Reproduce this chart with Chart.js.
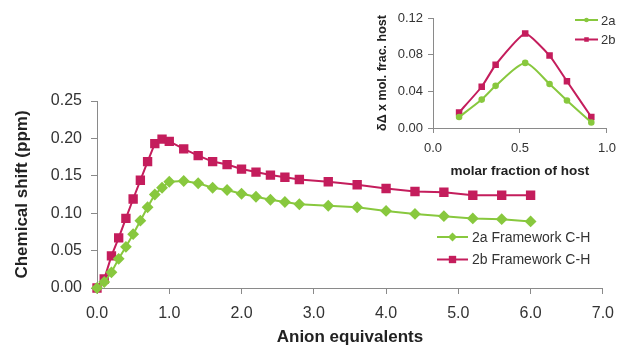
<!DOCTYPE html>
<html>
<head>
<meta charset="utf-8">
<script src="https://cdn.jsdelivr.net/npm/chart.js@4.4.1/dist/chart.umd.min.js"></script>
<style>
  html, body { margin: 0; padding: 0; background: #fff; }
  #wrap { position: relative; width: 624px; height: 348px; }
  #mainChart { position: absolute; left: 0; top: 0; }
  #insetChart { position: absolute; left: 360px; top: 0; }
</style>
</head>
<body>
<div id="wrap">
  <canvas id="mainChart" width="624" height="348"></canvas>
  <canvas id="insetChart" width="264" height="180"></canvas>
</div>
<script>
// Titration: anion equivalents vs chemical shift
const anionEq = [0, 0.1, 0.2, 0.3, 0.4, 0.5, 0.6, 0.7, 0.8, 0.9, 1.0, 1.2, 1.4, 1.6, 1.8, 2.0,
    2.2, 2.4, 2.6, 2.8, 3.2, 3.6, 4.0, 4.4, 4.8, 5.2, 5.6, 6.0];
const shift2a = [0, 0.008, 0.021, 0.039, 0.055, 0.072, 0.090, 0.108, 0.125, 0.134, 0.142, 0.143,
    0.140, 0.134, 0.131, 0.126, 0.122, 0.118, 0.115, 0.112, 0.110, 0.108, 0.103, 0.099, 0.096,
    0.093, 0.092, 0.089];
const shift2b = [0, 0.012, 0.043, 0.067, 0.093, 0.119, 0.144, 0.169, 0.193, 0.199, 0.196, 0.186,
    0.177, 0.169, 0.165, 0.159, 0.155, 0.151, 0.148, 0.145, 0.142, 0.138, 0.133, 0.129, 0.128,
    0.124, 0.124, 0.124];
const mainLabels = ['2a Framework C-H', '2b Framework C-H'];

// Job plot (inset)
const molarFraction = [0.15, 0.28, 0.36, 0.53, 0.67, 0.77, 0.91];
const job2a = [0.012, 0.031, 0.046, 0.071, 0.048, 0.030, 0.006];
const job2b = [0.017, 0.045, 0.069, 0.103, 0.079, 0.051, 0.012];
const insetLabels = ['2a', '2b'];

const green = '#88c83e';
const pink = '#c41d5c';
const axisGrey = '#8a8a8a';
const textGrey = '#333';
const fontFamily = "'Liberation Sans', Arial, sans-serif";

const toPoints = (xs, ys) => xs.map((x, i) => ({x: x, y: ys[i]}));

// small legend drawn inside the plot area
function drawMarker(ctx, style, x, y, r) {
    ctx.beginPath();
    if (style === 'rectRot') {
        ctx.moveTo(x - r, y); ctx.lineTo(x, y - r); ctx.lineTo(x + r, y); ctx.lineTo(x, y + r);
    } else if (style === 'rect') {
        const s = r * Math.SQRT1_2;
        ctx.rect(x - s, y - s, 2 * s, 2 * s);
    } else {
        ctx.arc(x, y, r, 0, Math.PI * 2);
    }
    ctx.closePath();
    ctx.fill();
}

const insideLegend = {
    id: 'insideLegend',
    afterDraw(chart, args, opts) {
        const ctx = chart.ctx;
        ctx.save();
        chart.data.datasets.forEach((ds, i) => {
            const y = opts.y + i * opts.spacing;
            ctx.strokeStyle = ds.borderColor;
            ctx.fillStyle = ds.backgroundColor;
            ctx.lineWidth = ds.borderWidth;
            ctx.beginPath();
            ctx.moveTo(opts.x, y);
            ctx.lineTo(opts.x + opts.lineLength, y);
            ctx.stroke();
            drawMarker(ctx, ds.pointStyle, opts.x + opts.lineLength / 2, y, ds.pointRadius);
            ctx.fillStyle = textGrey;
            ctx.font = opts.font;
            ctx.textBaseline = 'middle';
            ctx.textAlign = 'left';
            ctx.fillText(ds.label, opts.x + opts.lineLength + opts.gap, y + 1);
        });
        ctx.restore();
    }
};

function axis(opts) {
    return {
        type: 'linear',
        min: opts.min,
        max: opts.max,
        border: {display: true, color: axisGrey, width: 1},
        grid: {drawOnChartArea: false, drawTicks: true, tickLength: opts.tickLength, color: axisGrey},
        ticks: {
            stepSize: opts.step,
            padding: opts.padding,
            color: textGrey,
            font: {family: fontFamily, size: opts.tickSize},
            callback: (v) => v.toFixed(opts.decimals)
        },
        title: {
            display: true,
            text: opts.title,
            color: '#222',
            font: {family: fontFamily, size: opts.titleSize, weight: 'bold'},
            padding: opts.titlePadding
        },
        afterFit: opts.afterFit
    };
}

const mainChart = new Chart(document.getElementById('mainChart').getContext('2d'), {
    type: 'scatter',
    data: {
        datasets: [{
            label: mainLabels[0],
            data: toPoints(anionEq, shift2a),
            borderColor: green,
            backgroundColor: green,
            borderWidth: 2,
            pointStyle: 'rectRot',
            pointRadius: 4.5,
            showLine: true,
            tension: 0,
            clip: false
        }, {
            label: mainLabels[1],
            data: toPoints(anionEq, shift2b),
            borderColor: pink,
            backgroundColor: pink,
            borderWidth: 2,
            pointStyle: 'rect',
            pointRadius: 5.2,
            showLine: true,
            tension: 0,
            clip: false
        }]
    },
    plugins: [insideLegend],
    options: {
        responsive: false,
        animation: false,
        devicePixelRatio: 1,
        layout: {padding: {left: 0, right: 19, top: 101, bottom: 0}},
        plugins: {
            legend: {display: false},
            tooltip: {enabled: false},
            insideLegend: {x: 437, y: 237, spacing: 22.5, lineLength: 31, gap: 4, font: '14px ' + fontFamily}
        },
        scales: {
            x: axis({min: 0, max: 7, step: 1, decimals: 1, tickLength: 6, padding: 10, tickSize: 16,
                title: 'Anion equivalents', titleSize: 17, titlePadding: {top: 0, bottom: 0},
                afterFit: (s) => { s.height = 60; }}),
            y: axis({min: 0, max: 0.25, step: 0.05, decimals: 2, tickLength: 6, padding: 9, tickSize: 16,
                title: 'Chemical shift (ppm)', titleSize: 17, titlePadding: {top: 12, bottom: 0},
                afterFit: (s) => { s.width = 97; }})
        }
    }
});

const insetChart = new Chart(document.getElementById('insetChart').getContext('2d'), {
    type: 'scatter',
    data: {
        datasets: [{
            label: insetLabels[0],
            data: toPoints(molarFraction, job2a),
            borderColor: green,
            backgroundColor: green,
            borderWidth: 2,
            pointStyle: 'circle',
            pointRadius: 2.3,
            showLine: true,
            tension: 0.25,
            clip: false
        }, {
            label: insetLabels[1],
            data: toPoints(molarFraction, job2b),
            borderColor: pink,
            backgroundColor: pink,
            borderWidth: 2,
            pointStyle: 'rect',
            pointRadius: 3.2,
            showLine: true,
            tension: 0.15,
            clip: false
        }]
    },
    plugins: [insideLegend],
    options: {
        responsive: false,
        animation: false,
        devicePixelRatio: 1,
        layout: {padding: {left: 0, right: 11, top: 18, bottom: 0}},
        plugins: {
            legend: {display: false},
            tooltip: {enabled: false},
            insideLegend: {x: 215, y: 20, spacing: 19.5, lineLength: 23, gap: 3, font: '13px ' + fontFamily}
        },
        scales: {
            x: axis({min: 0, max: 1, step: 0.5, decimals: 1, tickLength: 5, padding: 8, tickSize: 13,
                title: 'molar fraction of host', titleSize: 13.5, titlePadding: {top: 0, bottom: 1},
                afterFit: (s) => { s.height = 52; }}),
            y: axis({min: 0, max: 0.12, step: 0.04, decimals: 2, tickLength: 5, padding: 5, tickSize: 13,
                title: 'δΔ x mol. frac. host', titleSize: 12.5, titlePadding: {top: 15, bottom: 0},
                afterFit: (s) => { s.width = 73; }})
        }
    }
});
</script>
</body>
</html>
